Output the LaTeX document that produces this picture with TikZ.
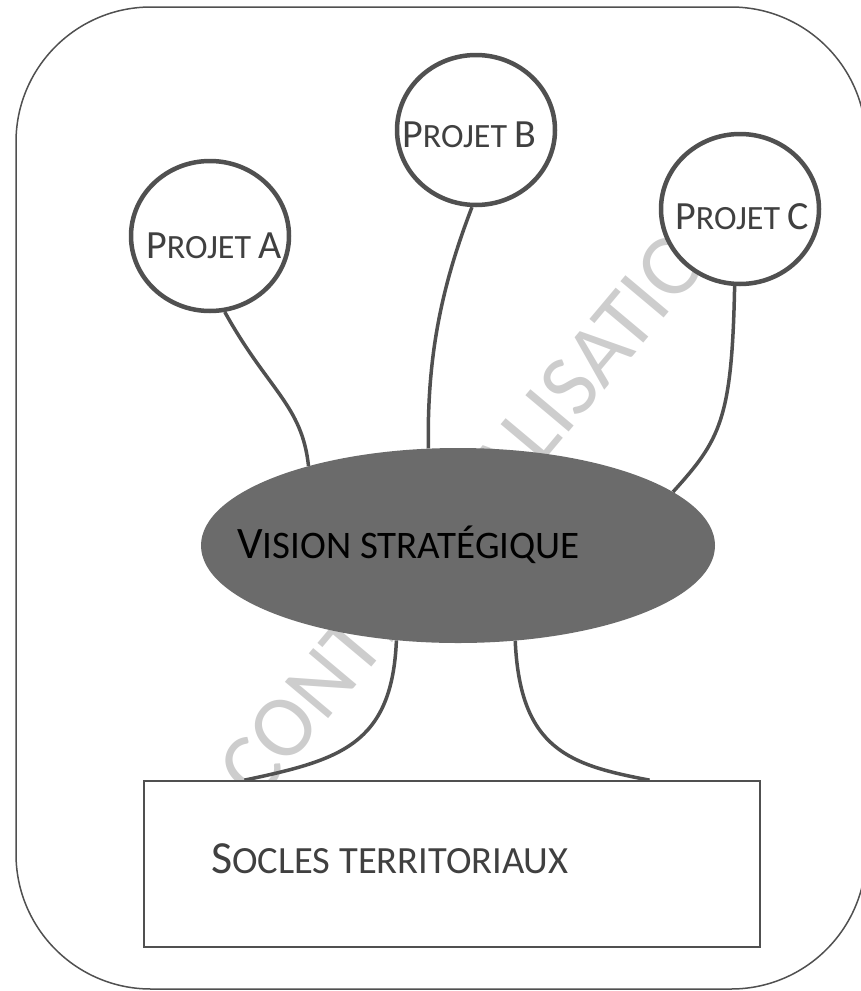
\documentclass[tikz,border=0pt]{standalone}
\usepackage{fontspec}
\setmainfont{Carlito}
\usetikzlibrary{shapes.geometric}
\definecolor{lineg}{HTML}{505050}
\definecolor{fillg}{HTML}{6B6B6B}
\definecolor{txtg}{HTML}{404040}
\definecolor{wmark}{HTML}{CDCDCD}
\newcommand{\pc}[2]{{\fontsize{#1}{#1}\selectfont #2}}
\tikzset{projet/.style={ellipse,draw=lineg,line width=4.5pt,fill=white,minimum width=158pt,minimum height=150pt,inner sep=0pt}}
\tikzset{txt/.style={anchor=base west,inner sep=0pt}}
\tikzset{link/.style={draw=lineg,line width=3.5pt}}

\begin{document}
\begin{tikzpicture}[x=1pt,y=-1pt]
        \useasboundingbox (0,0) rectangle (860,991);
        % watermark
        \node[text=wmark,rotate=50,font=\fontsize{88}{96}\selectfont] (wm) at (481,493) {CONTEXTUALISATION};
        % draw the frame
        \draw[lineg,line width=1.5pt,rounded corners=135pt] (16,7) rectangle (866,989);
        % draw the projects
        \node[projet] (pa) at (210,236) {};
        \node[projet] (pb) at (476,130) {};
        \node[projet] (pc) at (740,209) {};
        \node[txt,text=txtg,font=\fontsize{40}{48}\selectfont] (ta) at (146,258) {P\pc{34}{ROJET }A};
        \node[txt,text=txtg,font=\fontsize{40}{48}\selectfont] (tb) at (402,147) {P\pc{34}{ROJET }B};
        \node[txt,text=txtg,font=\fontsize{40}{48}\selectfont] (tc) at (675,229) {P\pc{34}{ROJET }C};
        % draw the vision and the base
        \node[ellipse,fill=fillg,minimum width=514pt,minimum height=195pt,inner sep=0pt] (vs) at (458,545.5) {};
        \node[txt,text=black,font=\fontsize{45}{54}\selectfont] (tv) at (237,558) {V\pc{39}{ISION STRATÉGIQUE}};
        \node[draw=lineg,line width=1.7pt,fill=white,minimum width=616pt,minimum height=166pt,inner sep=0pt] (socles) at (452,864) {};
        \node[txt,text=txtg,font=\fontsize{46}{54}\selectfont] (ts) at (211,873) {S\pc{38.5}{OCLES TERRITORIAUX}};
        % draw the links
        \draw[link] (pa.-79) .. controls (268,390) and (302,405) .. (vs.152);
        \draw[link] (pb.-93) .. controls (440,290) and (427,360) .. (vs.107);
        \draw[link] (pc.-94.5) .. controls (732,420) and (720,440) .. (vs.14);
        \draw[link] (vs.-123) .. controls (392,745) and (340,760) .. (socles.158);
        \draw[link] (vs.-59) .. controls (520,750) and (570,765) .. (socles.23);
\end{tikzpicture}
\end{document}
